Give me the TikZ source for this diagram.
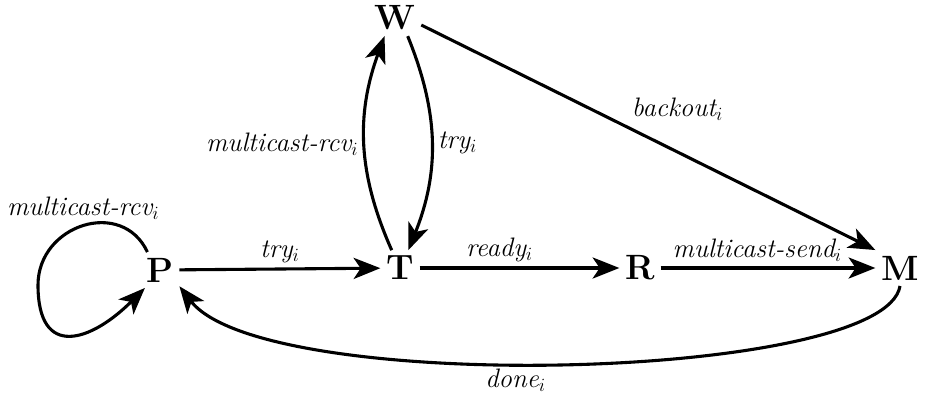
\documentclass[tikz,border=0pt]{standalone}
\usepackage{fix-cm}
\usetikzlibrary{arrows.meta}

\begin{document}
\begin{tikzpicture}[x=0.025cm, y=0.025cm,
        stnode/.style={font=\fontsize{25}{27}\selectfont\bfseries, inner sep=4pt},
        lbl/.style={font=\fontsize{19}{21}\selectfont\itshape},
        arr/.style={-{Stealth[length=19pt, width=15pt, inset=5pt]}, line width=2.2pt}]
        \useasboundingbox (0,0) rectangle (940,397);
        \node[stnode] (P) at (160,127) {P};
        \node[stnode] (T) at (400,129) {T};
        \node[stnode] (R) at (640,129) {R};
        \node[stnode] (M) at (900,129) {M};
        \node[stnode] (W) at (395,379) {W};
        \coordinate (loopW) at (38,112);
        \draw[arr] (P.125) to[out=115, in=90, looseness=1.35] node[lbl, above, pos=0.5] {multicast-rcv$_i$} (loopW)
          to[out=-90, in=-135, looseness=1.8] (P.-130);
        \draw[arr] (P) -- node[lbl, above] {try$_i$} (T);
        \draw[arr] (T) -- node[lbl, above, pos=0.4] {ready$_i$} (R);
        \draw[arr] (R) -- node[lbl, above, pos=0.45] {multicast-send$_i$} (M);
        \draw[arr] (T.115) to[bend left=22] node[lbl, left] {multicast-rcv$_i$} (W.-120);
        \draw[arr] (W.-55) to[bend left=22] node[lbl, right] {try$_i$} (T.65);
        \draw[arr] (W.-15) -- node[lbl, above right, pos=0.45] {backout$_i$} (M.north west);
        \draw[arr] (M.south) .. controls +(-15,-95) and +(85,-110) .. node[lbl, below, pos=0.55] {done$_i$} (P.-40);
      \end{tikzpicture}
\end{document}
